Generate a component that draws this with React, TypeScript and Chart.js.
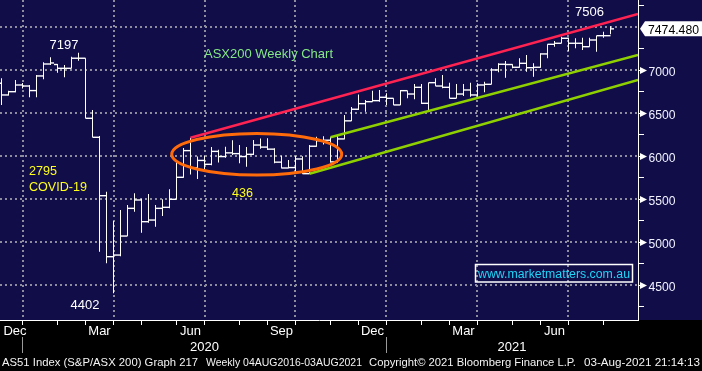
import React, { useEffect, useRef } from 'react';
import { Chart, registerables } from 'chart.js';

Chart.register(...registerables);

// Weekly OHLC, ASX200 (week index 0 = week of 2 Dec 2019)
const opens = [
  6842, 6706, 6744, 6822, 6810, 6757, 6927, 7066, 7060, 7016,
  7016, 7133, 7133, 6435, 6214, 5535, 4826, 4845, 5066, 5388,
  5485, 5233, 5252, 5388, 5400, 5493, 5749, 6059, 5860, 5945,
  5900, 6050, 5990, 6033, 6024, 5990, 6016, 6124, 6100, 6076,
  5925, 5857, 5862, 5962, 5791, 6110, 6175, 6180, 5928, 6195,
  6405, 6540, 6605, 6628, 6640, 6679, 6667, 6590, 6756, 6717,
  6795, 6609, 6849, 6810, 6795, 6667, 6717, 6764, 6706, 6822,
  6830, 6997, 7063, 7060, 7028, 7074, 7023, 7028, 7183, 7295,
  7307, 7365, 7307, 7307, 7267, 7345, 7395, 7395,
];
const highs = [
  6900, 6756, 6880, 6845, 6822, 6938, 7086, 7144, 7066, 7055,
  7151, 7197, 7133, 6531, 6230, 5580, 5241, 5369, 5427, 5563,
  5500, 5555, 5427, 5493, 5609, 5930, 6090, 6209, 5990, 6000,
  6100, 6070, 6105, 6180, 6124, 6100, 6183, 6200, 6202, 6086,
  6000, 5950, 6000, 5995, 6124, 6220, 6225, 6215, 6230, 6473,
  6565, 6710, 6648, 6756, 6764, 6726, 6667, 6764, 6756, 6834,
  6834, 6849, 6900, 6938, 6849, 6834, 6834, 6849, 6842, 6860,
  7016, 7074, 7101, 7063, 7133, 7171, 7074, 7191, 7295, 7334,
  7384, 7372, 7365, 7372, 7372, 7395, 7442, 7506,
];
const lows = [
  6590, 6700, 6737, 6781, 6679, 6679, 6888, 7055, 6965, 6912,
  7016, 7105, 6435, 6214, 4884, 4749, 4402, 4830, 5066, 5349,
  5105, 5221, 5175, 5299, 5388, 5493, 5745, 5780, 5730, 5820,
  5890, 5920, 5975, 6008, 5912, 5872, 6008, 6080, 6066, 5912,
  5854, 5854, 5790, 5788, 5791, 6105, 6130, 5920, 5920, 6191,
  6403, 6531, 6512, 6628, 6628, 6590, 6590, 6590, 6667, 6656,
  6601, 6531, 6810, 6784, 6667, 6667, 6694, 6686, 6686, 6737,
  6830, 6970, 6907, 7016, 7023, 6977, 6919, 7023, 7133, 7267,
  7307, 7217, 7249, 7229, 7267, 7209, 7372, 7412,
];
const closes = [
  6706, 6744, 6822, 6810, 6757, 6927, 7066, 7078, 7016, 7016,
  7133, 7133, 6435, 6214, 5535, 4826, 4845, 5066, 5388, 5485,
  5233, 5252, 5388, 5400, 5493, 5749, 6059, 5860, 5945, 5900,
  6050, 5990, 6033, 6024, 5990, 6016, 6124, 6100, 6076, 5925,
  5857, 5862, 5962, 5791, 6110, 6175, 6180, 5928, 6195, 6405,
  6540, 6605, 6628, 6640, 6679, 6667, 6590, 6756, 6717, 6795,
  6609, 6849, 6810, 6795, 6667, 6717, 6764, 6706, 6822, 6830,
  6997, 7063, 7060, 7028, 7074, 7023, 7028, 7183, 7295, 7307,
  7365, 7307, 7307, 7267, 7345, 7395, 7395, 7474.48,
];

// Axes (x in week index units)
const xMin = -0.2143;
const xMax = 90.9286;
const yMin = 4090;
const yMax = 7810;
const yGridValues = [4500, 5000, 5500, 6000, 6500, 7000, 7500];
const yLabelValues = [4500, 5000, 5500, 6000, 6500, 7000];
const yMinorValues = [4250, 4750, 5250, 5750, 6250, 6750, 7250, 7750];
const quarterWeeks = [3, 16, 29, 42, 55, 68, 81];
const monthTickWeeks = [3, 8, 12, 16, 20, 25, 29, 34, 38, 42, 47, 51, 55, 60, 64, 68, 73, 77, 81, 86];
const monthLabels = ['Dec', 'Mar', 'Jun', 'Sep', 'Dec', 'Mar', 'Jun'];
const monthLabelWeeks = [1.93, 14, 27, 40, 53, 66, 79];
const yearLabels = ['2020', '2021'];
const yearLabelWeeks = [29, 72.93];
const yearBreakWeeks = [3, 55];

// Trend lines and consolidation ellipse (data units)
const resistanceLine = [{ x: 27, y: 6209 }, { x: 90.93, y: 7648 }];
const channelUpper = [{ x: 47, y: 6215 }, { x: 90.93, y: 7171 }];
const channelLower = [{ x: 44, y: 5791 }, { x: 90.93, y: 6880 }];
const consolidation = { x: 36.46, y: 6017, rx: 12.14, ry: 242 };

const FONT = "'Liberation Sans', Arial, sans-serif";

function fitText(ctx: CanvasRenderingContext2D, text: string, x: number, y: number, w: number, size: number, color: string) {
  ctx.font = `${size}px ${FONT}`;
  const m = ctx.measureText(text).width;
  ctx.save();
  ctx.translate(x, y);
  ctx.scale(w / m, 1);
  ctx.fillStyle = color;
  ctx.textAlign = 'left';
  ctx.fillText(text, 0, 0);
  ctx.restore();
}

const bgPlugin = {
  id: 'bg',
  beforeDraw(chart: any) {
    const { ctx, width, height, chartArea } = chart;
    ctx.save();
    ctx.fillStyle = '#000000';
    ctx.fillRect(0, 0, width, height);
    ctx.fillStyle = '#100d49';
    ctx.fillRect(0, 0, width, chartArea.bottom);
    ctx.restore();
  },
};

const decoPlugin = {
  id: 'deco',
  beforeDatasetsDraw(chart: any) {
    const { ctx, chartArea, scales } = chart;
    const xs = scales.x;
    const ys = scales.y;
    const { left, right, top, bottom } = chartArea;
    ctx.save();
    // dotted grid
    ctx.strokeStyle = '#8d8d9e';
    ctx.lineWidth = 2;
    ctx.setLineDash([2, 3]);
    yGridValues.forEach((v) => {
      const y = Math.round(ys.getPixelForValue(v));
      ctx.beginPath();
      ctx.moveTo(left, y);
      ctx.lineTo(right, y);
      ctx.stroke();
    });
    quarterWeeks.forEach((k) => {
      const x = Math.round(xs.getPixelForValue(k));
      ctx.beginPath();
      ctx.moveTo(x, top);
      ctx.lineTo(x, bottom);
      ctx.stroke();
    });
    ctx.setLineDash([]);
    ctx.restore();
  },
  afterDatasetsDraw(chart: any) {
    const { ctx, chartArea, scales } = chart;
    const xs = scales.x;
    const ys = scales.y;
    const { left, right, bottom } = chartArea;
    const px = (k: number) => xs.getPixelForValue(k);
    const py = (v: number) => ys.getPixelForValue(v);
    ctx.save();

    // consolidation ellipse
    const cx = px(consolidation.x);
    const cy = py(consolidation.y);
    const rx = px(consolidation.x + consolidation.rx) - cx;
    const ry = cy - py(consolidation.y + consolidation.ry);
    ctx.strokeStyle = '#ff6a0a';
    ctx.lineWidth = 3;
    ctx.beginPath();
    ctx.ellipse(cx, cy, rx, ry, 0, 0, Math.PI * 2);
    ctx.stroke();

    // axes lines
    ctx.strokeStyle = '#ffffff';
    ctx.lineWidth = 1;
    ctx.beginPath();
    ctx.moveTo(left, bottom + 0.5);
    ctx.lineTo(right + 1, bottom + 0.5);
    ctx.moveTo(right + 0.5, 0);
    ctx.lineTo(right + 0.5, bottom + 1);
    ctx.stroke();

    // month ticks
    ctx.beginPath();
    monthTickWeeks.forEach((k) => {
      const x = Math.floor(px(k)) + 0.5;
      ctx.moveTo(x, bottom);
      ctx.lineTo(x, bottom + 5);
    });
    ctx.stroke();

    // year separators
    ctx.strokeStyle = '#9a9a9a';
    ctx.beginPath();
    yearBreakWeeks.forEach((k) => {
      const x = Math.floor(px(k)) + 0.5;
      ctx.moveTo(x, 337);
      ctx.lineTo(x, 353);
    });
    ctx.stroke();

    // x labels
    ctx.fillStyle = '#ffffff';
    ctx.font = `13px ${FONT}`;
    ctx.textAlign = 'center';
    ctx.textBaseline = 'alphabetic';
    monthLabels.forEach((t, i) => ctx.fillText(t, px(monthLabelWeeks[i]), 335));
    yearLabels.forEach((t, i) => ctx.fillText(t, px(yearLabelWeeks[i]), 351));

    // right axis ticks
    ctx.strokeStyle = '#ffffff';
    ctx.beginPath();
    yMinorValues.forEach((v) => {
      const y = Math.round(py(v)) + 0.5;
      ctx.moveTo(right, y);
      ctx.lineTo(right + 6, y);
    });
    ctx.stroke();
    yLabelValues.forEach((v) => {
      const y = Math.round(py(v)) + 0.5;
      ctx.beginPath();
      ctx.moveTo(right, y);
      ctx.lineTo(right + 3, y);
      ctx.stroke();
      ctx.fillStyle = '#ffffff';
      ctx.beginPath();
      ctx.moveTo(right + 2, y - 3.5);
      ctx.lineTo(right + 9, y);
      ctx.lineTo(right + 2, y + 3.5);
      ctx.closePath();
      ctx.fill();
      fitText(ctx, String(v), right + 10.5, y + 5, 27, 13, '#f2f2ff');
    });

    // last price label
    const last = closes[closes.length - 1];
    const ly = py(last);
    ctx.fillStyle = '#ffffff';
    ctx.beginPath();
    ctx.moveTo(right + 2, ly);
    ctx.lineTo(right + 7, ly - 7.5);
    ctx.lineTo(702, ly - 7.5);
    ctx.lineTo(702, ly + 7.5);
    ctx.lineTo(right + 7, ly + 7.5);
    ctx.closePath();
    ctx.fill();
    fitText(ctx, last.toFixed(3), right + 10, ly + 4.8, 51, 13, '#000000');

    // annotations anchored to data
    ctx.font = `13px ${FONT}`;
    ctx.textAlign = 'center';
    ctx.fillStyle = '#ffffff';
    ctx.fillText('7197', px(11) - 14.5, py(7197) - 4);
    ctx.fillText('4402', px(16) - 28.5, py(4402) + 16);
    ctx.fillText('7506', px(87) - 21, py(7506) - 10);

    fitText(ctx, 'ASX200 Weekly Chart', 204, 58, 129, 13, '#84e884');
    fitText(ctx, '2795', 29, 175, 28, 13, '#ffff1a');
    fitText(ctx, 'COVID-19', 29, 191, 58, 13, '#ffff1a');
    fitText(ctx, '436', 232, 196.5, 21, 13, '#ffff1a');

    // website box
    ctx.strokeStyle = '#ffffff';
    ctx.lineWidth = 1.5;
    ctx.strokeRect(475.5, 264.5, 157, 17.5);
    fitText(ctx, 'www.marketmatters.com.au', 478, 277.5, 152, 12, '#1fd6f7');

    // footer
    const fc = '#f4f4f4';
    fitText(ctx, 'AS51 Index (S&P/ASX 200) Graph 217', 2, 366, 196, 11, fc);
    fitText(ctx, 'Weekly 04AUG2016-03AUG2021', 206, 366, 156, 11, fc);
    fitText(ctx, 'Copyright\u00A9 2021 Bloomberg Finance L.P.', 369, 366, 207, 11, fc);
    fitText(ctx, '03-Aug-2021 21:14:13', 584, 366, 116, 11, fc);

    ctx.restore();
  },
};

export default function App() {
  const ref = useRef<HTMLCanvasElement | null>(null);
  useEffect(() => {
    document.body.style.margin = '0';
    document.body.style.background = '#000';
    const canvas = ref.current;
    if (!canvas) return;
    const lineDs = (data: any[], color: string) => ({
      type: 'line' as const,
      data,
      borderColor: color,
      borderWidth: 2.5,
      pointRadius: 0,
      fill: false,
      order: 0,
    });
    const tickDs = (vals: number[], shift: number) => ({
      type: 'line' as const,
      data: vals.map((v, i) => ({ x: i + shift, y: v })),
      showLine: false,
      pointStyle: 'line',
      pointRadius: 1.75,
      pointBorderWidth: 1.4,
      pointBorderColor: '#ffffff',
      pointBackgroundColor: '#ffffff',
      order: 1,
    });
    const chart = new Chart(canvas, {
      type: 'bar',
      data: {
        datasets: [
          lineDs(resistanceLine, '#ff2352'),
          lineDs(channelUpper, '#8fd000'),
          lineDs(channelLower, '#8fd000'),
          tickDs(opens, -0.25),
          tickDs(closes, 0.25),
          {
            type: 'bar',
            data: highs.map((h, i) => ({ x: i, y: [lows[i], h] })),
            backgroundColor: '#ffffff',
            borderWidth: 0,
            barThickness: 1,
            grouped: false,
            inflateAmount: 0,
            order: 2,
          },
        ],
      },
      options: {
        responsive: false,
        animation: false,
        events: [],
        layout: { autoPadding: false, padding: { left: 0, top: 0, right: 64, bottom: 51 } },
        scales: {
          x: { type: 'linear', min: xMin, max: xMax, display: false, offset: false },
          y: { type: 'linear', min: yMin, max: yMax, display: false },
        },
        plugins: { legend: { display: false }, tooltip: { enabled: false } },
      },
      plugins: [bgPlugin, decoPlugin],
    } as any);
    return () => chart.destroy();
  }, []);
  return (
    <div style={{ position: 'fixed', left: 0, top: 0, width: 702, height: 371 }}>
      <canvas ref={ref} width={702} height={371} style={{ display: 'block' }} />
    </div>
  );
}
